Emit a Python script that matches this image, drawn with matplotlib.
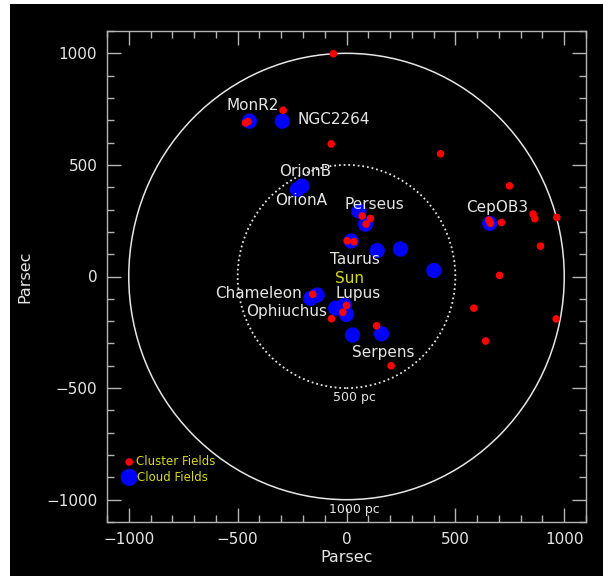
import numpy as np
import matplotlib
matplotlib.use("Agg")
import matplotlib.pyplot as plt
from matplotlib.patches import Circle
from matplotlib.ticker import MultipleLocator

# Cluster fields (red) positions in parsec, Sun at origin
cluster_x = [-60, -291, -452, -464, -70, 432, 749, 857, 865, 966, 654, 661, 712, 891,
             703, 585, 963, 639, 205, 138, -69, -17, 0, -155, 72, 90, 110, 3, 34]
cluster_y = [998, 745, 694, 688, 594, 550, 406, 280, 259, 265, 253, 238, 242, 136,
             5, -142, -190, -289, -400, -221, -189, -160, -130, -80, 271, 235, 260, 160, 156]

# Cloud fields (blue)
cloud_x = [-446, -295, -226, -204, 57, 87, 21, 141, 248, 401, -165, -135,
           -50, -10, 0, 28, 161, 658]
cloud_y = [696, 696, 390, 405, 293, 234, 159, 116, 123, 27, -98, -83,
           -142, -130, -170, -262, -257, 238]

# Region names and where they are written
names = ["MonR2", "NGC2264", "OrionB", "OrionA", "Perseus", "CepOB3", "Taurus",
         "Lupus", "Chameleon", "Ophiuchus", "Serpens"]
name_x = [-430, -226, -188, -207, 126, 690, 38, 54, -403, -276, 169]
name_y = [767, 703, 469, 339, 323, 308, 78, -74, -75, -157, -339]
name_ha = ["center", "left", "center", "center", "center", "center", "center",
           "center", "center", "center", "center"]

ring_radii = [500, 1000]
ring_labels = ["500 pc", "1000 pc"]
ring_label_y = [-542, -1045]

fg = "#e6e6e6"
axcol = "#b4b4b4"
yellow = "#d8d820"

fig = plt.figure(figsize=(6.03, 5.76), dpi=100)
fig.patch.set_facecolor("white")
# black backdrop covering almost the whole canvas
fig.patches.append(plt.Rectangle((10 / 603, 0), 1, 1 - 4 / 576, transform=fig.transFigure,
                                 facecolor="black", edgecolor="none", zorder=-10))

ax = fig.add_axes([107 / 603, 1 - 522 / 576, (586 - 107) / 603, (522 - 31) / 576])
ax.set_facecolor("black")
ax.set_xlim(-1100, 1100)
ax.set_ylim(-1100, 1100)

# distance rings
ax.add_patch(Circle((0, 0), ring_radii[1], fill=False, edgecolor=fg, lw=1.1))
ax.add_patch(Circle((0, 0), ring_radii[0], fill=False, edgecolor=fg, lw=1.3,
                    linestyle=(0, (1, 1.6))))
for lab, ly in zip(ring_labels, ring_label_y):
    ax.text(37, ly, lab, color=fg, fontsize=9, ha="center", va="center")

ax.scatter(cloud_x, cloud_y, s=120, color="#0000ff", edgecolors="none", zorder=3)
ax.scatter(cluster_x, cluster_y, s=30, color="#ff0000", edgecolors="none", zorder=4)

for n, x, y, ha in zip(names, name_x, name_y, name_ha):
    ax.text(x, y, n, color=fg, fontsize=11, ha=ha, va="center", zorder=5)
ax.text(15, -8, "Sun", color=yellow, fontsize=11, ha="center", va="center", zorder=5)

# legend drawn by hand in the lower left corner
ax.scatter([-998], [-831], s=30, color="#ff0000", edgecolors="none")
ax.scatter([-998], [-900], s=150, color="#0000ff", edgecolors="none")
ax.text(-969, -831, "Cluster Fields", color=yellow, fontsize=8.5, va="center")
ax.text(-962, -900, "Cloud Fields", color=yellow, fontsize=8.5, va="center")

ax.xaxis.set_major_locator(MultipleLocator(500))
ax.yaxis.set_major_locator(MultipleLocator(500))
ax.xaxis.set_minor_locator(MultipleLocator(100))
ax.yaxis.set_minor_locator(MultipleLocator(100))
ax.tick_params(which="both", direction="in", top=True, right=True, color=axcol,
               labelcolor=fg, labelsize=11, width=1)
ax.tick_params(which="major", length=10, pad=7)
ax.tick_params(which="minor", length=5)
for sp in ax.spines.values():
    sp.set_color(axcol)
    sp.set_linewidth(1)

ax.set_xlabel("Parsec", color=fg, fontsize=11.5, labelpad=2)
ax.set_ylabel("Parsec", color=fg, fontsize=11.5, labelpad=10)

fig.savefig("out.png", dpi=100, facecolor=fig.get_facecolor())
